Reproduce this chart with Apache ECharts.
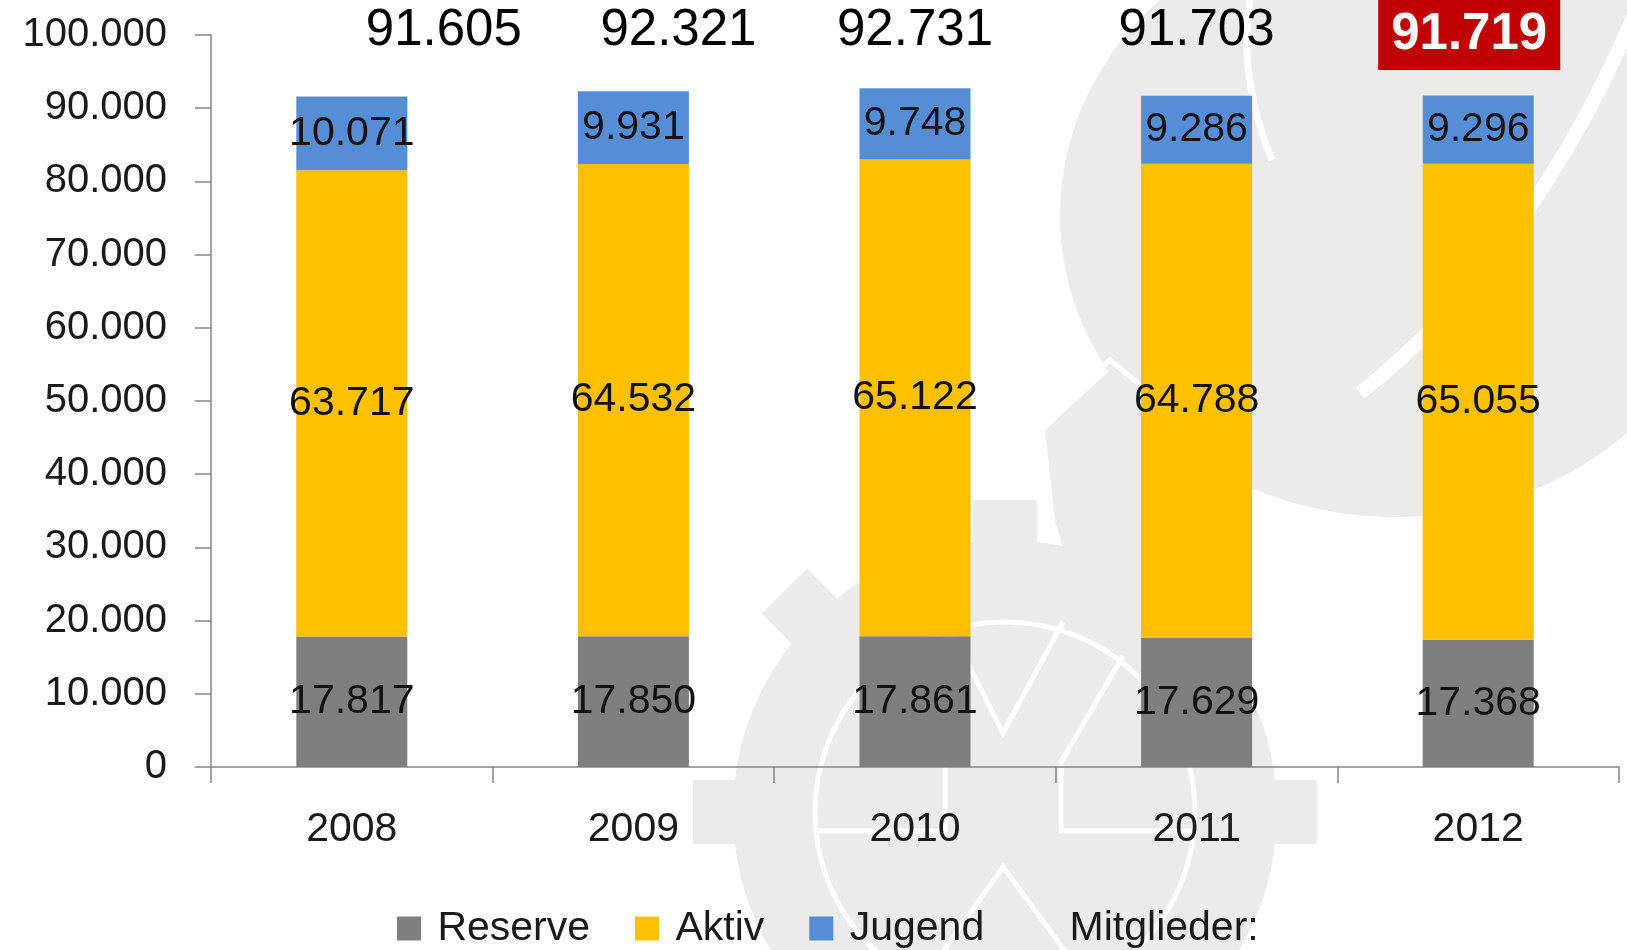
<!DOCTYPE html>
<html>
<head>
<meta charset="utf-8">
<script src="https://cdn.jsdelivr.net/npm/echarts@6/dist/echarts.min.js"></script>
<style>
  html, body { margin: 0; padding: 0; background: #fff; }
  #main { width: 1627px; height: 950px; }
</style>
</head>
<body>
<div id="main"></div>
<script>
// Mitgliederzahlen je Jahr
const years = ['2008', '2009', '2010', '2011', '2012'];
const reserve = [17817, 17850, 17861, 17629, 17368];
const aktiv = [63717, 64532, 65122, 64788, 65055];
const jugend = [10071, 9931, 9748, 9286, 9296];
const mitglieder = [91605, 92321, 92731, 91703, 91719];
const yTicks = [0, 10000, 20000, 30000, 40000, 50000, 60000, 70000, 80000, 90000, 100000];

const GRID_TOP = 35;
const GRID_BOTTOM = 183;
const PLOT_H = 950 - GRID_TOP - GRID_BOTTOM;
const FONT = '"Liberation Sans", Arial, sans-serif';

// Tausenderpunkt wie im Original
function fmt(v) {
  return String(v).replace(/\B(?=(\d{3})+(?!\d))/g, '.');
}

// Summen stehen alle auf gleicher Hoehe oben, etwas verschoben
const totalShiftX = [92, 45, 0, 0, -9];
function totalOffset(i) {
  const py = GRID_TOP + PLOT_H * (1 - mitglieder[i] / yTicks[yTicks.length - 1]);
  const target = i === 4 ? 35 : 31;
  return [totalShiftX[i], target - py];
}

// Wasserzeichen im Hintergrund (nur grob nachgezeichnet)
const wm = '#ebebeb';
const gearX = 1005, gearY = 812;
function watermark() {
  const els = [
    { type: 'ellipse', shape: { cx: 1395, cy: 215, rx: 335, ry: 302 }, style: { fill: wm } },
    { type: 'polygon', shape: { points: [[1045, 430], [1110, 370], [1215, 455], [1175, 560], [1120, 600], [1070, 575], [1055, 520]] }, style: { fill: wm } },
    { type: 'circle', shape: { cx: gearX, cy: gearY, r: 272 }, style: { fill: wm } }
  ];
  for (let k = 0; k < 8; k++) {
    els.push({
      type: 'rect', x: gearX, y: gearY, rotation: k * Math.PI / 4,
      shape: { x: -32, y: -312, width: 64, height: 80 }, style: { fill: wm }
    });
  }
  const white = { stroke: '#fff', lineWidth: 5, fill: 'none' };
  els.push(
    { type: 'circle', shape: { cx: gearX, cy: gearY, r: 190 }, style: white },
    { type: 'polyline', shape: { points: [[945, 618], [1003, 733], [1063, 622]] }, style: white },
    { type: 'polyline', shape: { points: [[1123, 656], [1061, 762], [1061, 831], [1192, 831]] }, style: white },
    { type: 'polyline', shape: { points: [[885, 656], [945, 762], [945, 831], [818, 831]] }, style: white },
    { type: 'polyline', shape: { points: [[940, 955], [1003, 867], [1068, 955]] }, style: white },
    { type: 'bezierCurve', shape: { x1: 1250, y1: 0, cpx1: 1240, cpy1: 60, cpx2: 1255, cpy2: 120, x2: 1272, y2: 160 }, style: { stroke: '#fff', lineWidth: 7, fill: 'none' } },
    { type: 'bezierCurve', shape: { x1: 1360, y1: 393, cpx1: 1480, cpy1: 300, cpx2: 1580, cpy2: 150, x2: 1640, y2: 0 }, style: { stroke: '#fff', lineWidth: 14, fill: 'none' } },
    { type: 'polyline', shape: { points: [[1040, 420], [1110, 360], [1225, 455]] }, style: white }
  );
  els.forEach(e => { e.z = -20; e.silent = true; });
  return els;
}

const chart = echarts.init(document.getElementById('main'), null, { renderer: 'canvas' });

const option = {
  animation: false,
  textStyle: { fontFamily: FONT },
  graphic: watermark(),
  grid: { left: 211, right: 8, top: GRID_TOP, bottom: GRID_BOTTOM, containLabel: false },
  legend: {
    left: 397,
    top: 908,
    padding: 0,
    itemWidth: 24,
    itemHeight: 24,
    itemGap: 45,
    textStyle: { fontSize: 41, color: '#1a1a1a', fontFamily: FONT },
    formatter: name => ' ' + name,
    data: [
      { name: 'Reserve', icon: 'rect' },
      { name: 'Aktiv', icon: 'rect' },
      { name: 'Jugend', icon: 'rect' },
      { name: 'Mitglieder:', icon: 'none' }
    ]
  },
  xAxis: {
    type: 'category',
    data: years,
    boundaryGap: true,
    axisLine: { lineStyle: { color: '#868686', width: 1.5 } },
    axisTick: { show: true, length: 16, lineStyle: { color: '#868686', width: 1.5 } },
    axisLabel: { margin: 42, fontSize: 41, color: '#1a1a1a', fontFamily: FONT }
  },
  yAxis: {
    type: 'value',
    min: yTicks[0],
    max: yTicks[yTicks.length - 1],
    interval: yTicks[1] - yTicks[0],
    axisLine: { show: true, lineStyle: { color: '#868686', width: 1.5 } },
    axisTick: { show: true, length: 16, lineStyle: { color: '#868686', width: 1.5 } },
    splitLine: { show: false },
    axisLabel: { margin: 44, fontSize: 40, color: '#1a1a1a', fontFamily: FONT, formatter: fmt }
  },
  series: [
    {
      name: 'Reserve', type: 'bar', stack: 'm', data: reserve, barWidth: 111,
      itemStyle: { color: '#7f7f7f' },
      label: { show: true, position: 'inside', fontSize: 41, color: '#111', fontFamily: FONT, formatter: p => fmt(p.value) }
    },
    {
      name: 'Aktiv', type: 'bar', stack: 'm', data: aktiv, barWidth: 111,
      itemStyle: { color: '#ffc000' },
      label: { show: true, position: 'inside', fontSize: 41, color: '#111', fontFamily: FONT, formatter: p => fmt(p.value) }
    },
    {
      name: 'Jugend', type: 'bar', stack: 'm', data: jugend, barWidth: 111,
      itemStyle: { color: '#558ed5' },
      label: { show: true, position: 'inside', fontSize: 41, color: '#111', fontFamily: FONT, formatter: p => fmt(p.value) }
    },
    {
      name: 'Mitglieder:', type: 'scatter', silent: true, symbolSize: 1,
      itemStyle: { color: 'rgba(0,0,0,0)', opacity: 1 },
      data: mitglieder.map((v, i) => {
        const item = {
          value: v,
          label: { offset: totalOffset(i) }
        };
        if (i === years.length - 1) {
          item.label = {
            offset: totalOffset(i),
            color: '#fff',
            fontWeight: 'bold',
            backgroundColor: '#c00000',
            padding: [8, 13, 10, 13],
            lineHeight: 52
          };
        }
        return item;
      }),
      label: { show: true, position: 'inside', fontSize: 51, color: '#000', fontFamily: FONT, formatter: p => fmt(p.value) }
    }
  ]
};

chart.setOption(option);
</script>
</body>
</html>
